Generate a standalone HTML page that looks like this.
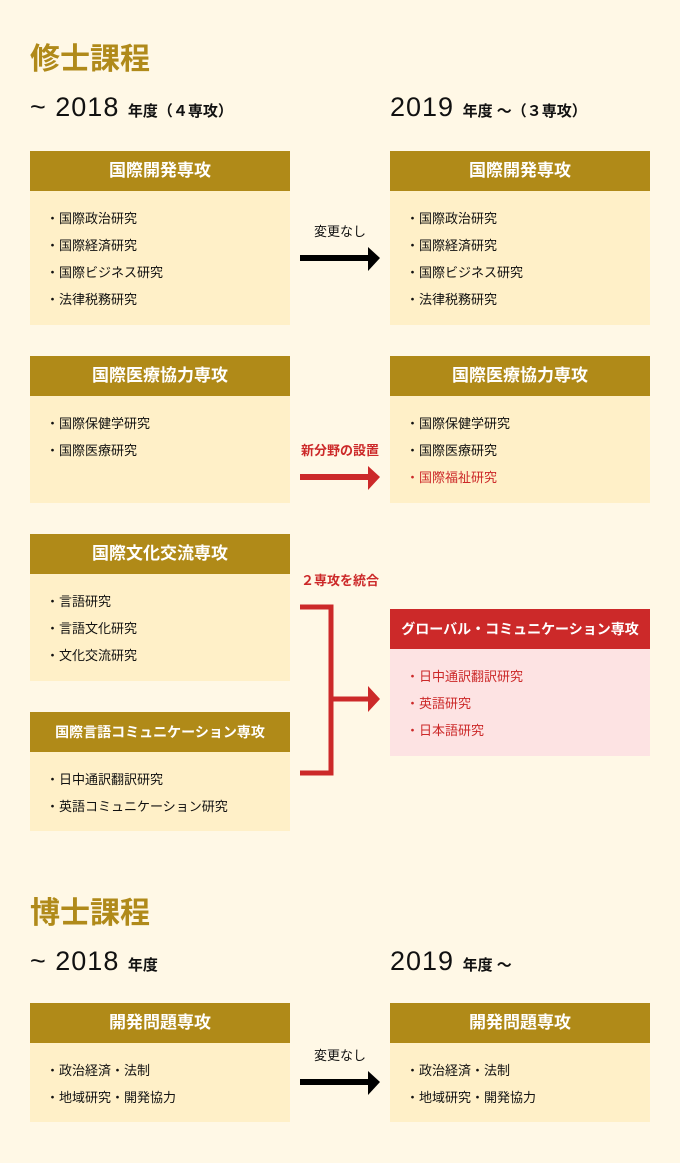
<!DOCTYPE html>
<html><head><meta charset="utf-8"><style>
*{margin:0;padding:0;box-sizing:border-box}
body{width:680px;height:1163px;background:#FFF8E6;position:relative;font-family:"Liberation Sans","Noto Sans CJK JP",sans-serif;color:#111;overflow:hidden}
.a{position:absolute}
.t{font-size:30px;font-weight:bold;color:#B08A1A;left:30px}
.y{font-size:27px;white-space:nowrap;letter-spacing:1px}
.y small{font-size:15px;font-weight:bold;letter-spacing:0}
.box{position:absolute;width:260px;background:#FFF0C8}
.h{height:40px;background:#B08A18;color:#fff;font-weight:bold;font-size:17px;text-align:center;line-height:40px}
.box ul{list-style:none;padding:14px 0 0 16px}
.box li{font-size:13px;height:27px;line-height:27px}
.r{color:#CC2929}
.lbl{font-size:13px;width:100px;text-align:center;left:290px}
</style></head><body>
<div class="a t" style="top:34px">修士課程</div>
<div class="a y" style="left:30px;top:92px">~ 2018 <small>年度（４専攻）</small></div>
<div class="a y" style="left:390px;top:92px">2019 <small>年度 ～（３専攻）</small></div>

<div class="box" style="left:30px;top:151px;height:174px"><div class="h">国際開発専攻</div><ul><li>・国際政治研究</li><li>・国際経済研究</li><li>・国際ビジネス研究</li><li>・法律税務研究</li></ul></div>
<div class="box" style="left:390px;top:151px;height:174px"><div class="h">国際開発専攻</div><ul><li>・国際政治研究</li><li>・国際経済研究</li><li>・国際ビジネス研究</li><li>・法律税務研究</li></ul></div>
<div class="a lbl" style="top:221px">変更なし</div>
<svg class="a" style="left:300px;top:245px" width="82" height="28"><rect x="0" y="10" width="70" height="6" fill="#000"/><polygon points="68,2 80,13 68,26" fill="#000"/></svg>

<div class="box" style="left:30px;top:356px;height:147px"><div class="h">国際医療協力専攻</div><ul><li>・国際保健学研究</li><li>・国際医療研究</li></ul></div>
<div class="box" style="left:390px;top:356px;height:147px"><div class="h">国際医療協力専攻</div><ul><li>・国際保健学研究</li><li>・国際医療研究</li><li class="r">・国際福祉研究</li></ul></div>
<div class="a lbl r" style="top:440px;font-weight:bold">新分野の設置</div>
<svg class="a" style="left:300px;top:464px" width="82" height="28"><rect x="0" y="10" width="70" height="6" fill="#CC2929"/><polygon points="68,2 80,13 68,26" fill="#CC2929"/></svg>

<div class="box" style="left:30px;top:534px;height:147px"><div class="h">国際文化交流専攻</div><ul><li>・言語研究</li><li>・言語文化研究</li><li>・文化交流研究</li></ul></div>
<div class="box" style="left:30px;top:712px;height:119px"><div class="h" style="font-size:14px">国際言語コミュニケーション専攻</div><ul><li>・日中通訳翻訳研究</li><li>・英語コミュニケーション研究</li></ul></div>
<div class="a lbl r" style="top:570px;font-weight:bold">２専攻を統合</div>
<svg class="a" style="left:300px;top:600px" width="84" height="180"><path d="M0 7 H31 V173 H0 M31 99 H70" stroke="#CC2929" stroke-width="5" fill="none"/><polygon points="68,86 80,99 68,112" fill="#CC2929"/></svg>
<div class="box" style="left:390px;top:609px;height:147px;background:#FDE3E3"><div class="h" style="background:#CC2929;font-size:14px">グローバル・コミュニケーション専攻</div><ul class="r"><li>・日中通訳翻訳研究</li><li>・英語研究</li><li>・日本語研究</li></ul></div>

<div class="a t" style="top:888px">博士課程</div>
<div class="a y" style="left:30px;top:946px">~ 2018 <small>年度</small></div>
<div class="a y" style="left:390px;top:946px">2019 <small>年度 ～</small></div>
<div class="box" style="left:30px;top:1003px;height:119px"><div class="h">開発問題専攻</div><ul><li>・政治経済・法制</li><li>・地域研究・開発協力</li></ul></div>
<div class="box" style="left:390px;top:1003px;height:119px"><div class="h">開発問題専攻</div><ul><li>・政治経済・法制</li><li>・地域研究・開発協力</li></ul></div>
<div class="a lbl" style="top:1045px">変更なし</div>
<svg class="a" style="left:300px;top:1069px" width="82" height="28"><rect x="0" y="10" width="70" height="6" fill="#000"/><polygon points="68,2 80,13 68,26" fill="#000"/></svg>
</body></html>
